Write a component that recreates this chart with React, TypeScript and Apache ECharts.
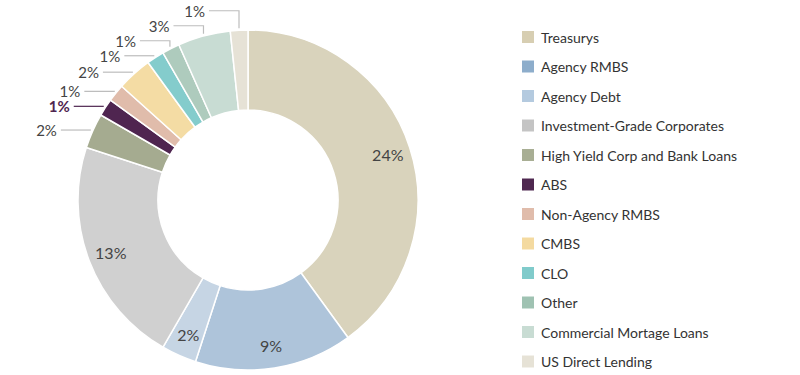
import React, { useEffect, useRef } from "react";
import * as echarts from "echarts";

const categories = [
  "Treasurys",
  "Agency RMBS",
  "Agency Debt",
  "Investment-Grade Corporates",
  "High Yield Corp and Bank Loans",
  "ABS",
  "Non-Agency RMBS",
  "CMBS",
  "CLO",
  "Other",
  "Commercial Mortage Loans",
  "US Direct Lending",
];
const values = [24, 9, 2, 13, 2, 1, 1, 2, 1, 1, 3, 1];
const sliceColors = [
  "#d9d3bc", "#aec4da", "#c6d5e4", "#d0d0d0", "#a5ab90", "#4f2550",
  "#e0bcab", "#f4dca4", "#84cccc", "#aecbbd", "#c8dcd3", "#e6e2d6",
];
const legendColors = [
  "#d7ceb2", "#8dadcb", "#b4cadf", "#c4c4c4", "#a8ae94", "#4f2850",
  "#e0bcab", "#f4daa0", "#80cbcb", "#9fc2b2", "#c8dcd3", "#e6e2d6",
];
const insideLabel = [true, true, true, true, false, false, false, false, false, false, false, false];
const highlightIndex = 5;

const CX = 248;
const CY = 200;
const R0 = 90;
const R = 170;
const FONT = "Lato, 'Open Sans', sans-serif";

export default function App() {
  const ref = useRef<HTMLDivElement>(null);

  useEffect(() => {
    document.body.style.margin = "0";
    if (!ref.current) return;
    const chart = echarts.init(ref.current, undefined, { renderer: "svg" });

    const total = values.reduce((a, b) => a + b, 0);
    const mids: number[] = [];
    let acc = 0;
    values.forEach((v) => {
      mids.push(((acc + v / 2) / total) * Math.PI * 2);
      acc += v;
    });
    const pt = (theta: number, r: number) => [CX + r * Math.sin(theta), CY - r * Math.cos(theta)];

    const anchors = mids.map((m) => pt(m, R + 2));
    const labelY: number[] = anchors.map((a) => a[1]);
    let prevY: number | null = null;
    for (let i = 0; i < values.length; i++) {
      if (insideLabel[i]) continue;
      let y = anchors[i][1];
      if (prevY !== null) y = Math.min(y, prevY - 15);
      labelY[i] = y;
      prevY = y;
    }

    const data = categories.map((name, i) => ({
      name,
      value: values[i],
      itemStyle: { color: sliceColors[i] },
      label: {
        color: i === highlightIndex ? "#4f2550" : "#444",
        fontWeight: i === highlightIndex ? "bold" : "normal",
        fontSize: insideLabel[i] ? 16 : 15,
      },
      labelLine: {
        show: !insideLabel[i],
        lineStyle: { color: i === highlightIndex ? "#4f2550" : "#bdbdbd", width: 1.2 },
      },
    }));

    chart.setOption({
      animation: false,
      legend: {
        orient: "vertical",
        left: 522,
        top: 30,
        height: 345,
        itemWidth: 12,
        itemHeight: 12,
        itemGap: 15.5,
        padding: 0,
        icon: "rect",
        selectedMode: false,
        textStyle: { fontFamily: FONT, fontSize: 14, color: "#333", padding: [0, 0, 0, 2] },
        data: categories.map((name, i) => ({ name, itemStyle: { color: legendColors[i], borderWidth: 0 } })),
      },
      series: [
        {
          type: "pie",
          center: [CX, CY],
          radius: [R0, R],
          startAngle: 90,
          clockwise: true,
          avoidLabelOverlap: false,
          itemStyle: { borderColor: "#fff", borderWidth: 1.5 },
          emphasis: { disabled: true },
          label: {
            show: true,
            position: "outside",
            formatter: "{c}%",
            fontFamily: FONT,
            fontSize: 16,
            lineHeight: 14,
          },
          labelLine: { show: true, length: 0, length2: 30 },
          labelLayout: (params: any) => {
            const i = params.dataIndex;
            if (insideLabel[i]) {
              const p = pt(mids[i], 147);
              return { x: p[0], y: p[1], align: "center", verticalAlign: "middle" };
            }
            const a = anchors[i];
            const ly = labelY[i];
            return {
              x: a[0] - 34,
              y: ly,
              align: "right",
              verticalAlign: "middle",
              labelLinePoints: [
                [a[0], a[1]],
                [a[0], ly],
                [a[0] - 30, ly],
              ],
            };
          },
          data,
        },
      ],
    });

    return () => chart.dispose();
  }, []);

  return <div ref={ref} style={{ width: 800, height: 375 }} />;
}
